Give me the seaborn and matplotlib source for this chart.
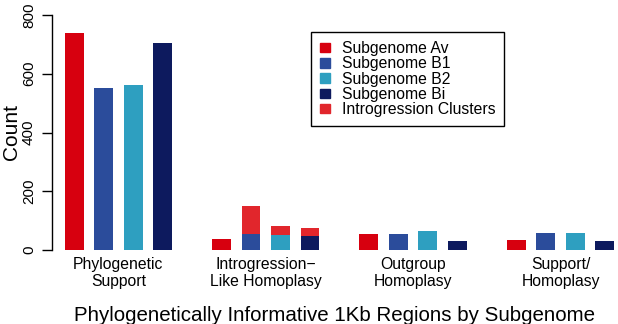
import pandas as pd
import seaborn as sns
import matplotlib.pyplot as plt
from matplotlib.patches import Patch

# values
categories = ["Phylogenetic\nSupport", "Introgression\u2212\nLike Homoplasy",
              "Outgroup\nHomoplasy", "Support/\nHomoplasy"]
subgenomes = ["Subgenome Av", "Subgenome B1", "Subgenome B2", "Subgenome Bi"]
av = [739, 36, 53, 34]
b1 = [553, 55, 54, 57]
b2 = [563, 51, 63, 58]
bi = [705, 47, 31, 32]
# extra counts stacked on top (introgression clusters)
clusters_av = [0, 0, 0, 0]
clusters_b1 = [0, 95, 0, 0]
clusters_b2 = [0, 30, 0, 0]
clusters_bi = [0, 28, 0, 0]

colors = ["#d7000f", "#2b4c9b", "#2e9fc0", "#0d1a5e"]
cluster_color = "#e1262c"

rows = []
for sg, base, extra in zip(subgenomes, [av, b1, b2, bi],
                           [clusters_av, clusters_b1, clusters_b2, clusters_bi]):
    for cat, v, e in zip(categories, base, extra):
        rows.append({"category": cat, "subgenome": sg, "count": v, "total": v + e})
df = pd.DataFrame(rows)

sns.set_style("white")
plt.rcParams["font.family"] = ["Liberation Sans", "DejaVu Sans"]
plt.rcParams["text.color"] = "black"
plt.rcParams["axes.labelcolor"] = "black"
plt.rcParams["xtick.color"] = "black"
plt.rcParams["ytick.color"] = "black"

fig = plt.figure(figsize=(6.18, 3.24), dpi=100)
ax = fig.add_axes([52 / 618, 1 - 250 / 324, 1 - 52 / 618, 235 / 324])

sns.barplot(data=df, x="category", y="total", hue="subgenome", order=categories,
            hue_order=subgenomes, palette=[cluster_color] * 4, gap=0.36,
            saturation=1, linewidth=0, legend=False, ax=ax)
sns.barplot(data=df, x="category", y="count", hue="subgenome", order=categories,
            hue_order=subgenomes, palette=colors, gap=0.36,
            saturation=1, linewidth=0, legend=False, ax=ax)

ax.set_ylim(0, 800)
ax.set_xlim(-0.45, 3.39)
ax.set_yticks([0, 200, 400, 600, 800])
ax.tick_params(axis="y", labelrotation=90, length=7.5, width=1, labelsize=11,
               left=True, pad=4)
for lab in ax.get_yticklabels():
    lab.set_verticalalignment("center")
ax.tick_params(axis="x", length=0, labelsize=11.3, pad=5)
ax.set_ylabel("Count", fontsize=15, labelpad=1)
ax.set_xlabel("Phylogenetically Informative 1Kb Regions by Subgenome",
              fontsize=14.8, labelpad=12)

for side in ["top", "right", "bottom"]:
    ax.spines[side].set_visible(False)
ax.spines["left"].set_color("black")
ax.spines["left"].set_linewidth(1)

handles = [Patch(color=c) for c in colors] + [Patch(color=cluster_color)]
labels = subgenomes + ["Introgression Clusters"]
leg = ax.legend(handles, labels, loc="upper left", bbox_to_anchor=(0.458, 0.926),
                fontsize=11.3, handlelength=0.65, handleheight=0.55, handletextpad=0.75,
                labelspacing=0.02, borderpad=0.55, borderaxespad=0,
                fancybox=False, framealpha=1)
leg.get_frame().set_edgecolor("black")
leg.get_frame().set_linewidth(1)

fig.savefig("out.png", dpi=100)
